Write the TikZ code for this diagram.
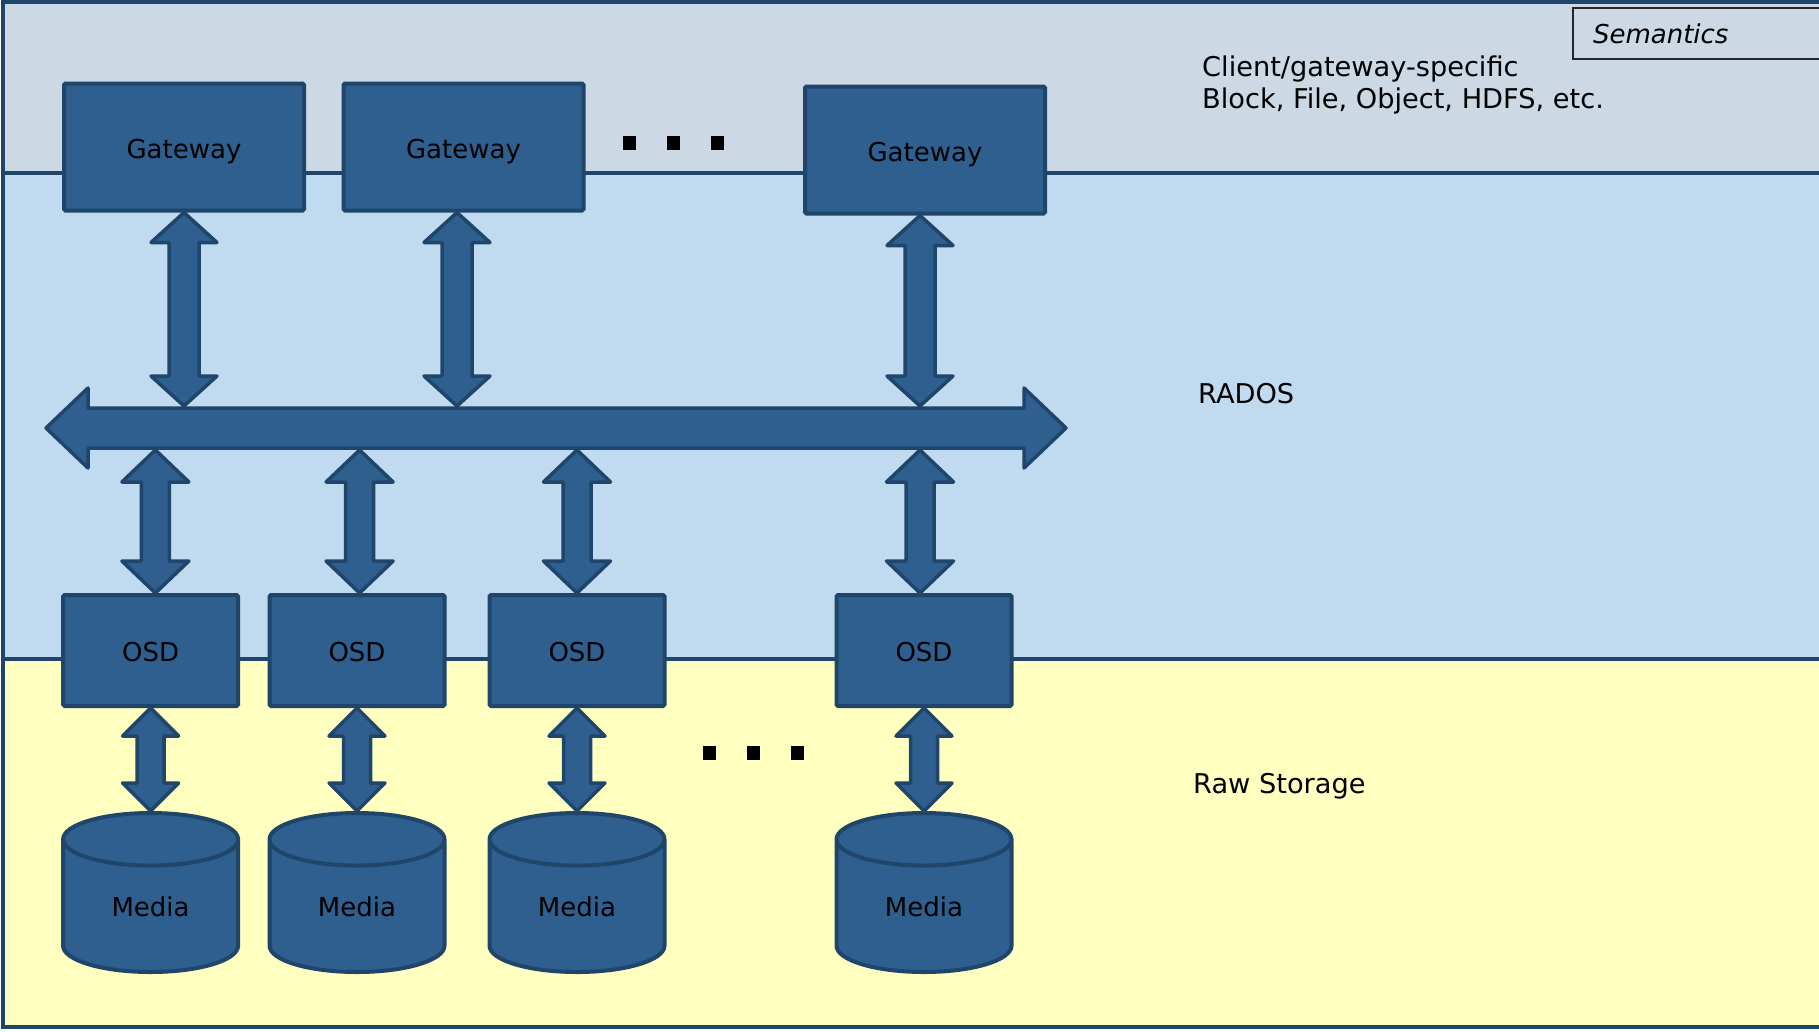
\documentclass[tikz,border=0pt]{standalone}
\usepackage{fontspec}
\setmainfont{DejaVu Sans}
\usetikzlibrary{calc, shapes.geometric}

\definecolor{topband}{RGB}{204,216,228}
\definecolor{midband}{RGB}{192,219,239}
\definecolor{lowband}{RGB}{255,255,192}
\definecolor{boxfill}{RGB}{46,95,142}
\definecolor{boxline}{RGB}{31,69,106}

\newcommand{\fatarrow}[5]{
    \coordinate (fa1) at ($(#1)!#5!(#2)$);
    \coordinate (fa2) at ($(#2)!#5!(#1)$);
    \draw[arrowbody] (#1) -- ($(fa1)!#4!90:(#2)$) -- ($(fa1)!#3!90:(#2)$) -- ($(fa2)!#3!-90:(#1)$) -- ($(fa2)!#4!-90:(#1)$)
        -- (#2) -- ($(fa2)!#4!90:(#1)$) -- ($(fa2)!#3!90:(#1)$) -- ($(fa1)!#3!-90:(#2)$) -- ($(fa1)!#4!-90:(#2)$) -- cycle;
}

\begin{document}
\begin{tikzpicture}[x=1pt, y=-1pt,
    every node/.style={font=\fontsize{26}{32}\selectfont},
    sidetext/.style={inner sep=0pt, font=\fontsize{27.2}{32}\selectfont},
    unitbox/.style={draw=boxline, fill=boxfill, line width=4pt, rounded corners=1.5pt, text height=22.5pt, text depth=0pt},
    gwbox/.style={unitbox, minimum width=240pt, minimum height=127pt},
    osdbox/.style={unitbox, minimum width=175pt, minimum height=111pt},
    disk/.style={draw=boxline, fill=boxfill, line width=4pt, cylinder, shape border rotate=90, aspect=0.62, minimum width=175pt, minimum height=159pt, text height=20pt, text depth=7pt},
    arrowbody/.style={draw=boxline, fill=boxfill, line width=3.5pt, line join=round},
    layerline/.style={draw=boxline, line width=4pt},
    dotmark/.style={fill=black, minimum width=13pt, minimum height=14pt, inner sep=0pt}]
    \useasboundingbox (0,0) rectangle (1819,1031);
    \fill[topband] (3,2) rectangle (1819,173);
    \fill[midband] (3,173) rectangle (1819,659);
    \fill[lowband] (3,659) rectangle (1819,1027);
    \draw[layerline] (1819,2) -- (3,2) -- (3,1027) -- (1819,1027);
    \draw[layerline] (3,173) -- (1819,173);
    \draw[layerline] (3,659) -- (1819,659);

    \node[draw=black!85, line width=2pt, fill=topband, anchor=north west, inner xsep=20pt, text width=220pt, minimum height=51pt, align=left] (sem) at (1572,7) {\itshape Semantics};
    \node[sidetext, anchor=base west] (cl1) at (1202,76.7) {Client/gateway-specific};
    \node[sidetext, anchor=base west] (cl2) at (1202,108.3) {Block, File, Object, HDFS, etc.};
    \node[sidetext, anchor=west] (rados) at (1198,394) {RADOS};
    \node[sidetext, anchor=base west] (raw) at (1193,793) {Raw Storage};

    \node[gwbox] (gw1) at (184,147) {Gateway};
    \node[gwbox] (gw2) at (463.5,147) {Gateway};
    \node[gwbox] (gw3) at (925,150) {Gateway};
    \foreach \x in {629,673,717}
        \node[dotmark] (dt\x) at (\x,143) {};

    \coordinate (busL) at (46,428);
    \coordinate (busR) at (1066,428);
    \coordinate (bustop) at (0,406);
    \coordinate (busbot) at (0,450);
    \fatarrow{busL}{busR}{20pt}{40pt}{42pt}
    \foreach \g/\dx in {gw1/0,gw2/-6.5,gw3/-5} {
        \coordinate (up) at ([xshift=\dx pt]\g.south);
        \fatarrow{up}{up |- bustop}{15pt}{33pt}{30pt}
    }

    \foreach \i/\x/\dx in {1/150.6/4.8,2/357/2.6,3/577/0,4/924/-4} {
        \node[osdbox] (osd\i) at (\x,650.5) {OSD};
        \node[disk, anchor=north] (md\i) at (\x,811) {Media};
        \coordinate (dn) at ([xshift=\dx pt]osd\i.north);
        \fatarrow{dn |- busbot}{dn}{14pt}{33.5pt}{32pt}
        \fatarrow{osd\i.south}{md\i.north}{13.5pt}{28pt}{28pt}
    }
    \foreach \x in {709,753,797}
        \node[dotmark] (db\x) at (\x,753) {};
\end{tikzpicture}
\end{document}
